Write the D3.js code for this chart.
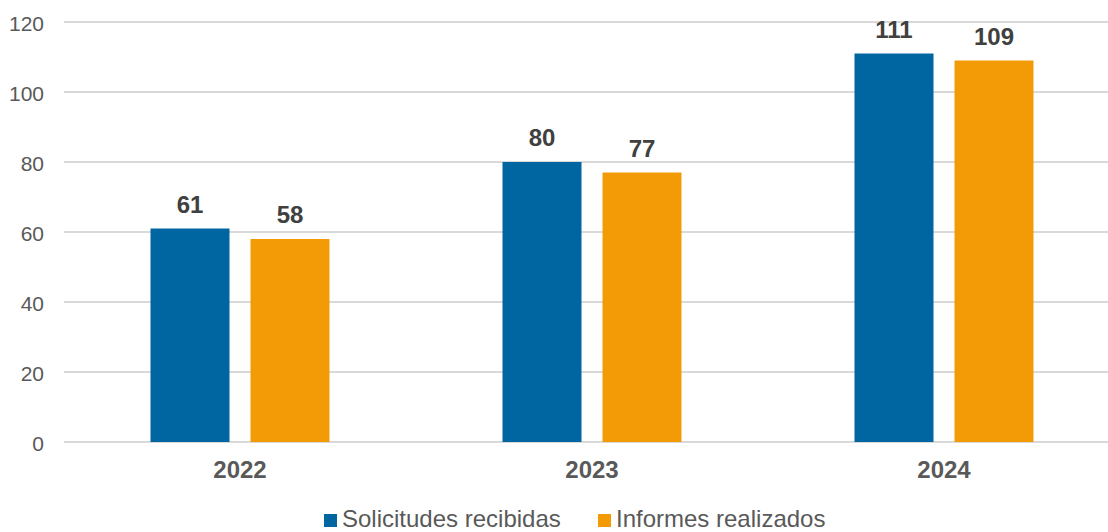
<!DOCTYPE html>
<html><head><meta charset="utf-8">
<script src="https://cdn.jsdelivr.net/npm/d3@7"></script>
<style>html,body{margin:0;padding:0;background:#fff;}svg{display:block;font-family:"Liberation Sans",Arial,sans-serif;}</style>
</head><body>
<svg id="chart" width="1108" height="532"></svg>
<script>
const categories = ["2022", "2023", "2024"];
const seriesNames = ["Solicitudes recibidas", "Informes realizados"];
const solicitudes = [61, 80, 111];
const informes = [58, 77, 109];
const yTicks = [0, 20, 40, 60, 80, 100, 120];
const colors = ["#0066a1", "#f39b07"];

(function () {
const svg = d3.select("#chart");
const pl = 64, pr = 1120, pt = 22, pb = 442;
const x = d3.scaleBand().domain(categories).range([pl, pr]).paddingInner(0).paddingOuter(0);
const xs = d3.scaleBand().domain(seriesNames).range([0, x.bandwidth()]).paddingInner(0.21).paddingOuter(0.865);
const y = d3.scaleLinear().domain([0, 120]).range([pb, pt]);

// grid
svg.append("g").selectAll("line").data(yTicks).join("line")
  .attr("x1", pl).attr("x2", 1108)
  .attr("y1", d => y(d)).attr("y2", d => y(d))
  .attr("stroke", "#d9d9d9").attr("stroke-width", 2);

// y labels
const yAxis = d3.axisLeft(y).tickValues(yTicks).tickSize(0).tickPadding(20);
const ya = svg.append("g").attr("transform", `translate(${pl},0)`).call(yAxis);
ya.select(".domain").remove();
ya.selectAll("text").attr("font-size", 21).attr("dy", "0.40em").attr("fill", "#595959")
  .attr("font-family", "Liberation Sans, Arial, sans-serif");

const data = categories.map((c, i) => ({cat: c, vals: [solicitudes[i], informes[i]]}));

const g = svg.append("g").selectAll("g").data(data).join("g")
  .attr("transform", d => `translate(${x(d.cat)},0)`);
g.selectAll("rect").data(d => d.vals.map((v, j) => ({s: seriesNames[j], v, j}))).join("rect")
  .attr("x", d => xs(d.s)).attr("width", xs.bandwidth())
  .attr("y", d => y(d.v)).attr("height", d => y(0) - y(d.v))
  .attr("fill", d => colors[d.j]);
g.selectAll("text").data(d => d.vals.map((v, j) => ({s: seriesNames[j], v, j}))).join("text")
  .attr("x", d => xs(d.s) + xs.bandwidth() / 2)
  .attr("y", d => y(d.v) - 16)
  .attr("text-anchor", "middle").attr("font-size", 24).attr("font-weight", "bold").attr("fill", "#404040")
  .text(d => d.v);

// x axis labels
const xAxis = d3.axisBottom(x).tickSize(0).tickPadding(0);
const xa = svg.append("g").attr("transform", `translate(0,${pb})`).call(xAxis);
xa.select(".domain").remove();
xa.selectAll("text").attr("y", 36).attr("dy", null).attr("font-size", 24).attr("font-weight", "bold")
  .attr("fill", "#595959").attr("font-family", "Liberation Sans, Arial, sans-serif");

// legend
const legendX = [324, 598];
const lg = svg.append("g").selectAll("g").data(seriesNames).join("g")
  .attr("transform", (d, i) => `translate(${legendX[i]},0)`);
lg.append("rect").attr("x", 0).attr("y", 514).attr("width", 13).attr("height", 13).attr("fill", (d, i) => colors[i]);
lg.append("text").attr("x", 18).attr("y", 527).attr("font-size", 24).attr("fill", "#595959").text(d => d);
})();
</script>
</body></html>
